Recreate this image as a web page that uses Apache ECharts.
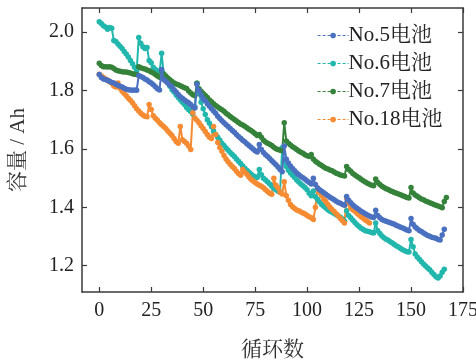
<!DOCTYPE html>
<html lang="zh">
<head>
    <meta charset="UTF-8">
    <title>容量-循环数</title>
    <style>
        body { margin: 0; background: #fff; }
        #container { width: 476px; height: 362px; }
    </style>
    <script src="https://cdn.jsdelivr.net/npm/echarts@6.0.0/dist/echarts.min.js"></script>
</head>
<body>
    <div id="container"></div>
    <script>
        // 各电池容量 (Ah)，下标即循环数
        var no5Capacity = [
            1.855, 1.845, 1.840, 1.838, 1.835, 1.832, 1.828, 1.826, 1.822, 1.818,
            1.815, 1.812, 1.808, 1.805, 1.803, 1.802, 1.801, 1.802, 1.801, 1.852,
            1.848, 1.845, 1.840, 1.836, 1.830, 1.826, 1.820, 1.813, 1.806, 1.802,
            1.872, 1.838, 1.832, 1.825, 1.818, 1.812, 1.803, 1.795, 1.787, 1.779,
            1.774, 1.768, 1.763, 1.758, 1.752, 1.745, 1.740, 1.822, 1.800, 1.785,
            1.772, 1.765, 1.755, 1.746, 1.738, 1.730, 1.722, 1.712, 1.704, 1.697,
            1.690, 1.683, 1.677, 1.670, 1.663, 1.657, 1.650, 1.643, 1.637, 1.630,
            1.625, 1.618, 1.612, 1.606, 1.600, 1.594, 1.590, 1.615, 1.598, 1.588,
            1.580, 1.574, 1.567, 1.560, 1.553, 1.546, 1.538, 1.530, 1.522, 1.610,
            1.565, 1.552, 1.542, 1.533, 1.525, 1.518, 1.512, 1.506, 1.501, 1.496,
            1.490, 1.485, 1.480, 1.500, 1.478, 1.466, 1.460, 1.455, 1.450, 1.445,
            1.440, 1.435, 1.430, 1.426, 1.421, 1.417, 1.414, 1.410, 1.407, 1.437,
            1.424, 1.416, 1.408, 1.402, 1.397, 1.392, 1.387, 1.382, 1.378, 1.374,
            1.370, 1.367, 1.365, 1.390, 1.372, 1.364, 1.358, 1.355, 1.352, 1.350,
            1.347, 1.345, 1.342, 1.338, 1.335, 1.332, 1.329, 1.326, 1.322, 1.320,
            1.362, 1.342, 1.333, 1.327, 1.321, 1.317, 1.312, 1.308, 1.304, 1.301,
            1.298, 1.296, 1.294, 1.290, 1.288, 1.305, 1.325
        ];
        var no6Capacity = [
            2.036, 2.030, 2.022, 2.018, 2.010, 2.016, 2.014, 1.972, 1.968, 1.960,
            1.952, 1.944, 1.934, 1.925, 1.915, 1.903, 1.892, 1.880, 1.868, 1.982,
            1.962, 1.950, 1.944, 1.948, 1.903, 1.895, 1.880, 1.872, 1.868, 1.862,
            1.928, 1.858, 1.843, 1.828, 1.815, 1.803, 1.795, 1.785, 1.776, 1.768,
            1.760, 1.752, 1.742, 1.734, 1.728, 1.720, 1.745, 1.825, 1.790, 1.760,
            1.738, 1.718, 1.700, 1.688, 1.676, 1.662, 1.650, 1.640, 1.630, 1.620,
            1.612, 1.603, 1.596, 1.588, 1.581, 1.574, 1.566, 1.558, 1.550, 1.542,
            1.534, 1.527, 1.520, 1.514, 1.508, 1.505, 1.502, 1.530, 1.512, 1.500,
            1.494, 1.487, 1.480, 1.472, 1.465, 1.460, 1.455, 1.452, 1.604, 1.556,
            1.540, 1.527, 1.518, 1.510, 1.502, 1.494, 1.487, 1.480, 1.474, 1.468,
            1.460, 1.448, 1.440, 1.456, 1.436, 1.428, 1.418, 1.410, 1.404, 1.398,
            1.392, 1.387, 1.383, 1.379, 1.375, 1.370, 1.366, 1.360, 1.352, 1.388,
            1.372, 1.364, 1.356, 1.348, 1.340, 1.334, 1.328, 1.324, 1.320, 1.318,
            1.316, 1.314, 1.312, 1.346, 1.320, 1.310, 1.302, 1.296, 1.291, 1.287,
            1.282, 1.278, 1.273, 1.268, 1.264, 1.259, 1.255, 1.251, 1.248, 1.247,
            1.290, 1.265, 1.240, 1.230, 1.222, 1.214, 1.206, 1.199, 1.192, 1.186,
            1.178, 1.170, 1.162, 1.158, 1.165, 1.178, 1.188
        ];
        var no7Capacity = [
            1.894, 1.886, 1.882, 1.882, 1.881, 1.882, 1.880, 1.876, 1.871, 1.868,
            1.866, 1.865, 1.864, 1.864, 1.862, 1.860, 1.858, 1.856, 1.855, 1.882,
            1.878, 1.876, 1.874, 1.871, 1.868, 1.864, 1.860, 1.855, 1.850, 1.846,
            1.866, 1.856, 1.850, 1.843, 1.837, 1.831, 1.826, 1.823, 1.820, 1.817,
            1.813, 1.810, 1.807, 1.799, 1.792, 1.786, 1.782, 1.825, 1.806, 1.798,
            1.790, 1.783, 1.776, 1.768, 1.762, 1.755, 1.749, 1.744, 1.739, 1.734,
            1.729, 1.722, 1.717, 1.711, 1.706, 1.701, 1.696, 1.691, 1.686, 1.682,
            1.678, 1.673, 1.668, 1.663, 1.658, 1.652, 1.646, 1.650, 1.640, 1.630,
            1.624, 1.620, 1.616, 1.612, 1.606, 1.601, 1.598, 1.596, 1.594, 1.690,
            1.627, 1.620, 1.614, 1.608, 1.603, 1.598, 1.593, 1.589, 1.585, 1.580,
            1.577, 1.574, 1.581, 1.566, 1.558, 1.553, 1.548, 1.543, 1.538, 1.534,
            1.531, 1.528, 1.525, 1.521, 1.517, 1.514, 1.511, 1.509, 1.507, 1.540,
            1.530, 1.524, 1.516, 1.511, 1.506, 1.501, 1.496, 1.491, 1.487, 1.483,
            1.479, 1.476, 1.474, 1.497, 1.485, 1.478, 1.472, 1.468, 1.464, 1.461,
            1.457, 1.454, 1.451, 1.448, 1.446, 1.443, 1.440, 1.437, 1.434, 1.432,
            1.468, 1.449, 1.442, 1.438, 1.433, 1.429, 1.426, 1.422, 1.419, 1.416,
            1.413, 1.410, 1.407, 1.405, 1.402, 1.399, 1.420, 1.434
        ];
        var no18Capacity = [
            1.856, 1.850, 1.845, 1.840, 1.836, 1.830, 1.825, 1.816, 1.812, 1.826,
            1.808, 1.798, 1.790, 1.782, 1.774, 1.767, 1.758, 1.748, 1.738, 1.730,
            1.722, 1.716, 1.712, 1.710, 1.752, 1.735, 1.714, 1.705, 1.698, 1.690,
            1.683, 1.677, 1.670, 1.662, 1.654, 1.646, 1.636, 1.626, 1.620, 1.677,
            1.632, 1.626, 1.620, 1.610, 1.598, 1.724, 1.706, 1.698, 1.690, 1.680,
            1.670, 1.660, 1.650, 1.640, 1.636, 1.677, 1.650, 1.622, 1.605, 1.592,
            1.578, 1.566, 1.556, 1.548, 1.540, 1.533, 1.524, 1.516, 1.510, 1.530,
            1.520, 1.513, 1.504, 1.496, 1.490, 1.485, 1.480, 1.476, 1.472, 1.467,
            1.460, 1.454, 1.448, 1.445, 1.500, 1.476, 1.466, 1.452, 1.446, 1.488,
            1.440, 1.424, 1.410, 1.402, 1.396, 1.391, 1.388, 1.384, 1.381, 1.377,
            1.372, 1.368, 1.364, 1.358, 1.400, 1.466, 1.450, 1.440, 1.428, 1.420,
            1.410, 1.400, 1.393, 1.386, 1.378, 1.370, 1.362, 1.354, 1.346, 1.432,
            1.412, 1.398, 1.392, 1.387, 1.380, 1.374, 1.368, 1.363, 1.357, 1.352,
            1.346
        ];
        var seriesNames = ['No.5电池', 'No.6电池', 'No.7电池', 'No.18电池'];
        var seriesColors = ['#4a70c0', '#22b7ad', '#35823a', '#f58b32'];
        var xTicks = [0, 25, 50, 75, 100, 125, 150, 175];
        var yTicks = [1.2, 1.4, 1.6, 1.8, 2.0];

        var serifFont = '"Liberation Serif", "Times New Roman", "Noto Serif CJK SC", "Noto Sans CJK SC", serif';

        function toPairs(arr) {
            return arr.map(function (v, i) { return [i, v]; });
        }

        var chart = echarts.init(document.getElementById('container'));

        var frameLine = { show: true, onZero: false, lineStyle: { color: '#3a3a3a', width: 1.5 } };
        var tickIn = { show: true, inside: true, length: 5, lineStyle: { color: '#3a3a3a', width: 1.2 } };

        var xBase = { type: 'value', min: -8.3, max: 175, splitLine: { show: false }, axisLine: frameLine };
        var yBase = { type: 'value', min: 1.11, max: 2.083, splitLine: { show: false }, axisLine: frameLine };

        var option = {
            animation: false,
            backgroundColor: '#fff',
            grid: { left: 82, right: 13, top: 8, bottom: 70, outerBoundsMode: 'none', containLabel: false },
            legend: {
                data: seriesNames,
                orient: 'vertical',
                left: 312,
                top: 20,
                itemGap: 7,
                itemWidth: 31,
                itemHeight: 7,
                lineStyle: { type: [3, 2], width: 1.2 },
                textStyle: { fontFamily: serifFont, fontSize: 21, color: '#222', padding: [0, 0, 0, -5] }
            },
            xAxis: [
                Object.assign({}, xBase, {
                    position: 'bottom',
                    name: '循环数',
                    nameLocation: 'middle',
                    nameGap: 48,
                    nameTextStyle: { fontFamily: serifFont, fontSize: 21, color: '#333' },
                    axisTick: Object.assign({ customValues: xTicks }, tickIn),
                    axisLabel: { customValues: xTicks, margin: 9, fontFamily: serifFont, fontSize: 20, color: '#222' }
                }),
                Object.assign({}, xBase, {
                    position: 'top',
                    axisTick: Object.assign({ customValues: xTicks }, tickIn),
                    axisLabel: { show: false }
                })
            ],
            yAxis: [
                Object.assign({}, yBase, {
                    position: 'left',
                    name: '容量 / Ah',
                    nameLocation: 'middle',
                    nameGap: 53,
                    nameTextStyle: { fontFamily: serifFont, fontSize: 21, color: '#333' },
                    axisTick: Object.assign({ customValues: yTicks }, tickIn),
                    axisLabel: {
                        customValues: yTicks, margin: 8, fontFamily: serifFont, fontSize: 20, color: '#222',
                        formatter: function (v) { return v.toFixed(1); }
                    }
                }),
                Object.assign({}, yBase, {
                    position: 'right',
                    axisTick: Object.assign({ customValues: yTicks }, tickIn),
                    axisLabel: { show: false }
                })
            ],
            series: [no5Capacity, no6Capacity, no7Capacity, no18Capacity].map(function (arr, k) {
                return {
                    name: seriesNames[k],
                    type: 'line',
                    data: toPairs(arr),
                    color: seriesColors[k],
                    symbol: 'circle',
                    symbolSize: 5.5,
                    showSymbol: true,
                    lineStyle: { width: 2 },
                    z: 2 + (k === 0 ? 1 : 0)
                };
            })
        };

        chart.setOption(option);
    </script>
</body>
</html>
